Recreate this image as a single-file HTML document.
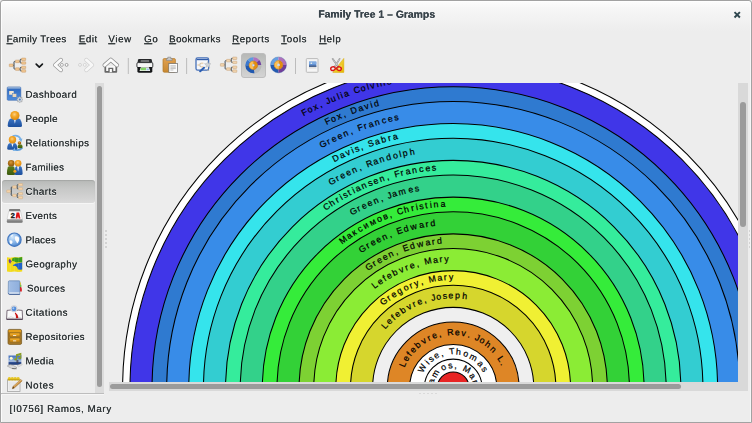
<!DOCTYPE html>
<html><head><meta charset="utf-8"><title>Family Tree 1 - Gramps</title>
<style>
html,body{margin:0;padding:0;}
body{width:752px;height:423px;overflow:hidden;position:relative;background:#ededed;font-family:"Liberation Sans",sans-serif;font-size:10.5px;color:#2e3436;}
.win{position:absolute;left:0;top:0;width:750px;height:421px;border:1px solid #a2a2a2;border-radius:3px 3px 0 0;box-shadow:inset 1px 1px 0 rgba(255,255,255,0.8), inset -1px 0 0 rgba(255,255,255,0.5);background:linear-gradient(#fdfdfd 0px,#f6f6f6 8px,#ededed 30px,#ededed 100%);}
.t{transform-origin:0 0;filter:opacity(0.999);position:absolute;white-space:nowrap;line-height:12px;height:12px;text-shadow:0.2px 0 0 currentColor, 0 1px 0 rgba(255,255,255,.6);}
.u{text-decoration:underline;text-underline-offset:1px;text-decoration-thickness:0.8px;}
.title{font-weight:bold;color:#39444b;}
.sep{position:absolute;width:1px;background:#c9c9c9;top:58px;height:16px;}
.ico{position:absolute;}
.sel{position:absolute;left:1.5px;top:180px;width:93px;height:23px;border-radius:3px;box-shadow:inset 0 1px 1px rgba(0,0,0,0.10), 0 1px 0 rgba(255,255,255,0.5);background:linear-gradient(#b7b9b7,#c6c7c6 35%,#d2d2d2 75%,#dadada);}
.trough{position:absolute;background:#d9d9d9;}
.thumb{position:absolute;background:#9b9b9b;border-radius:3px;}
.dot{position:absolute;width:1.5px;height:1.5px;background:#d3d3d3;}
.chart{position:absolute;left:109px;top:83px;}
</style></head><body>
<div class="win"></div>
<!-- title -->
<span class="t title" style="left:318px;top:8px;transform:matrix(1,0.0005,0,1,0.20,0.60);font-size:10.4px;letter-spacing:0.006px">Family Tree 1 – Gramps</span>
<svg class="ico" style="left:732px;top:10px" width="10" height="10" viewBox="0 0 10 10"><path d="M2.5 2.1 L7.9 7.5 M7.9 2.1 L2.5 7.5" stroke="#2e464e" stroke-width="1.9" fill="none"/></svg>
<!-- menu -->
<span class="t " style="left:6px;top:33px;transform:matrix(1,0.0005,0,1,0.50,0.24);font-size:9.7px;letter-spacing:0.374px"><span class="u">F</span>amily Trees</span>
<span class="t " style="left:78px;top:33px;transform:matrix(1,0.0005,0,1,0.80,0.24);font-size:9.7px;letter-spacing:0.538px"><span class="u">E</span>dit</span>
<span class="t " style="left:108px;top:33px;transform:matrix(1,0.0005,0,1,0.20,0.24);font-size:9.7px;letter-spacing:0.683px"><span class="u">V</span>iew</span>
<span class="t " style="left:144px;top:33px;transform:matrix(1,0.0005,0,1,0.10,0.24);font-size:9.7px;letter-spacing:0.542px"><span class="u">G</span>o</span>
<span class="t " style="left:169px;top:33px;transform:matrix(1,0.0005,0,1,0.10,0.24);font-size:9.7px;letter-spacing:0.355px"><span class="u">B</span>ookmarks</span>
<span class="t " style="left:232px;top:33px;transform:matrix(1,0.0005,0,1,0.10,0.24);font-size:9.7px;letter-spacing:0.525px"><span class="u">R</span>eports</span>
<span class="t " style="left:281px;top:33px;transform:matrix(1,0.0005,0,1,0.10,0.24);font-size:9.7px;letter-spacing:0.688px"><span class="u">T</span>ools</span>
<span class="t " style="left:319px;top:33px;transform:matrix(1,0.0005,0,1,0.00,0.24);font-size:9.7px;letter-spacing:0.572px"><span class="u">H</span>elp</span>
<!-- toolbar -->
<svg class="ico" style="left:0;top:50px" width="360" height="30" viewBox="0 50 360 30">
<defs><linearGradient id="pb" x1="0" y1="0" x2="0" y2="1"><stop offset="0" stop-color="#b6b8b6"/><stop offset="0.5" stop-color="#c6c7c6"/><stop offset="1" stop-color="#d4d4d4"/></linearGradient><linearGradient id="clipg" x1="0" y1="0" x2="0" y2="1"><stop offset="0" stop-color="#e0a050"/><stop offset="1" stop-color="#c88830"/></linearGradient><linearGradient id="yel" x1="0" y1="0" x2="1" y2="1"><stop offset="0" stop-color="#f8e060"/><stop offset="1" stop-color="#e8b800"/></linearGradient></defs>
<rect x="241.5" y="53.5" width="24" height="24" rx="2.5" fill="url(#pb)" stroke="#bababa" stroke-width="0.9"/>
<rect x="127.80000000000001" y="58" width="1" height="16" fill="#bcbcbc"/>
<rect x="186.1" y="58" width="1" height="16" fill="#bcbcbc"/>
<rect x="295.0" y="58" width="1" height="16" fill="#bcbcbc"/>
<path d="M13.10 65.30 H14.00 M15.40 61.40 H14.70 Q14.00 61.40 14.00 62.10 V68.40 Q14.00 69.10 14.70 69.10 H15.40 M19.20 61.40 H20.10 M21.60 59.30 H20.80 Q20.10 59.30 20.10 60.00 V62.30 Q20.10 63.00 20.80 63.00 H21.60 M19.20 69.10 H20.10 M21.60 67.40 H20.80 Q20.10 67.40 20.10 68.10 V70.20 Q20.10 70.90 20.80 70.90 H21.60" stroke="#333c44" stroke-width="0.95" fill="none"/>
<rect x="9.30" y="64.00" width="3.8" height="2.6" rx="0.35" fill="#f2c792" stroke="#c39560" stroke-width="0.5"/>
<rect x="15.40" y="60.15" width="3.9" height="2.5" rx="0.35" fill="#f2c792" stroke="#c39560" stroke-width="0.5"/>
<rect x="15.40" y="67.85" width="3.9" height="2.5" rx="0.35" fill="#f2c792" stroke="#c39560" stroke-width="0.5"/>
<rect x="21.60" y="58.10" width="4.1" height="2.4" rx="0.35" fill="#f2c792" stroke="#c39560" stroke-width="0.5"/>
<rect x="21.60" y="61.80" width="4.1" height="2.4" rx="0.35" fill="#f2c792" stroke="#c39560" stroke-width="0.5"/>
<rect x="21.60" y="66.20" width="4.1" height="2.4" rx="0.35" fill="#f2c792" stroke="#c39560" stroke-width="0.5"/>
<rect x="21.60" y="69.70" width="4.1" height="2.5" rx="0.35" fill="#f2c792" stroke="#c39560" stroke-width="0.5"/>
<path d="M36.2 64.2 L39.3 67.2 L42.4 64.2" stroke="#15181a" stroke-width="1.7" fill="none" stroke-linecap="round" stroke-linejoin="round"/>
<path d="M60.8 60 L55.2 65 L60.8 70" stroke="#979797" stroke-width="4.3" fill="none" stroke-linecap="round" stroke-linejoin="round"/>
<path d="M60.8 60 L55.2 65 L60.8 70" stroke="#fbfbfb" stroke-width="2.9" fill="none" stroke-linecap="round" stroke-linejoin="round"/>
<circle cx="61.9" cy="64.9" r="1.45" fill="#fdfdfd" stroke="#9a9a9a" stroke-width="0.8"/><circle cx="66.6" cy="64.9" r="1.45" fill="#fdfdfd" stroke="#8a8a8a" stroke-width="0.8"/>
<path d="M86.4 60 L92 65 L86.4 70" stroke="#d0d0d0" stroke-width="4.3" fill="none" stroke-linecap="round" stroke-linejoin="round"/>
<path d="M86.4 60 L92 65 L86.4 70" stroke="#f7f7f7" stroke-width="2.9" fill="none" stroke-linecap="round" stroke-linejoin="round"/>
<circle cx="80" cy="64.9" r="1.45" fill="#f6f6f6" stroke="#cccccc" stroke-width="0.8"/><circle cx="84.8" cy="64.9" r="1.45" fill="#f6f6f6" stroke="#cfcfcf" stroke-width="0.8"/>
<path d="M105.3 66.2 V71.8 H116.3 V66.2" stroke="#686868" stroke-width="1.7" fill="#fafafa" stroke-linejoin="round"/>
<path d="M109 72.2 V68.4 H112.6 V72.2" stroke="#686868" stroke-width="1.4" fill="#fdfdfd"/>
<path d="M104.6 65.2 L110.8 59.8 L117 65.2" stroke="#8e8e8e" stroke-width="4.2" fill="none" stroke-linecap="round" stroke-linejoin="round"/>
<path d="M104.6 65.2 L110.8 59.8 L117 65.2" stroke="#fbfbfb" stroke-width="2.8" fill="none" stroke-linecap="round" stroke-linejoin="round"/>
<path d="M139 59 H150.8 Q151.6 59 151.8 59.8 L152.4 63.2 H137.4 L138 59.8 Q138.2 59 139 59 Z" fill="#26282a"/>
<rect x="140.6" y="60.3" width="8.6" height="1.5" rx="0.4" fill="#8a8c8e"/>
<rect x="136.9" y="62.6" width="15.9" height="4.9" rx="1.2" fill="#f6f6f6" stroke="#26282a" stroke-width="0.9"/>
<path d="M137.4 66.9 H152.3 V71.3 Q152.3 72.7 150.9 72.7 H138.8 Q137.4 72.7 137.4 71.3 Z" fill="#141618"/>
<path d="M140.8 67.3 H148.9 L150.2 70.9 H139.5 Z" fill="#f4f6f2"/>
<path d="M141.2 67.7 H146.2 L146.0 70.3 H140.3 Z" fill="#84d468"/>
<path d="M146.6 68.6 H148.6 L149.2 70.3 H146.4 Z" fill="#9cc0ea"/>
<rect x="163" y="58.6" width="12.4" height="13.6" rx="1.2" fill="url(#clipg)" stroke="#b07828" stroke-width="0.7"/>
<path d="M166.4 60.4 V58.6 H167.8 V57.2 H170.8 V58.6 H172.2 V60.4 Z" fill="#c9c9c9" stroke="#7e7e7e" stroke-width="0.6"/>
<rect x="168.8" y="63.6" width="8.6" height="8.8" fill="#fcfcfc" stroke="#6c6c6c" stroke-width="0.7"/>
<path d="M170.4 65.8 H175.8 M170.4 67.2 H175.8 M170.4 68.6 H175.8 M170.4 70 H173.4" stroke="#a8a8a8" stroke-width="0.7"/>
<rect x="196" y="57.9" width="12.6" height="12.2" rx="1.6" fill="#f6f7f9" stroke="#4670b8" stroke-width="1.3"/>
<rect x="196.6" y="58.9" width="11.4" height="1.3" fill="#2f5cab"/>
<path d="M198.6 65 H200 M200 63.4 V66.6 M200 63.4 H201 M200 66.6 H201" stroke="#b9ad9c" stroke-width="0.7" fill="none"/>
<rect x="197.4" y="64.2" width="2" height="1.6" fill="#ecd6b8"/><rect x="201" y="62.5" width="2.4" height="1.6" fill="#ecd6b8"/><rect x="201" y="66" width="2.4" height="1.6" fill="#ecd6b8"/>
<path d="M207.7 61.4 L208.6 63.5 L210.9 63.7 L209.2 65.2 L209.7 67.5 L207.7 66.3 L205.7 67.5 L206.2 65.2 L204.5 63.7 L206.8 63.5 Z" fill="#cfd3d7" stroke="#a8acb0" stroke-width="0.4"/>
<path d="M200.2 71.2 L204 67.8" stroke="#2c5eb2" stroke-width="2.1" fill="none" stroke-linecap="round"/>
<path d="M207.4 68.8 L209.4 71 H207.4 Z" fill="#a4a8ac"/>
<path d="M224.20 64.90 H225.10 M226.50 60.61 H225.80 Q225.10 60.61 225.10 61.31 V68.38 Q225.10 69.08 225.80 69.08 H226.50 M230.30 60.61 H231.20 M232.70 58.30 H231.90 Q231.20 58.30 231.20 59.00 V61.67 Q231.20 62.37 231.90 62.37 H232.70 M230.30 69.08 H231.20 M232.70 67.21 H231.90 Q231.20 67.21 231.20 67.91 V70.36 Q231.20 71.06 231.90 71.06 H232.70" stroke="#3a4249" stroke-width="0.95" fill="none"/>
<rect x="220.40" y="63.60" width="3.8" height="2.6" rx="0.35" fill="#f2d4ae" stroke="#c4a076" stroke-width="0.5"/>
<rect x="226.50" y="59.36" width="3.9" height="2.5" rx="0.35" fill="#f2d4ae" stroke="#c4a076" stroke-width="0.5"/>
<rect x="226.50" y="67.83" width="3.9" height="2.5" rx="0.35" fill="#f2d4ae" stroke="#c4a076" stroke-width="0.5"/>
<rect x="232.70" y="57.10" width="4.1" height="2.4" rx="0.35" fill="#f2d4ae" stroke="#c4a076" stroke-width="0.5"/>
<rect x="232.70" y="61.17" width="4.1" height="2.4" rx="0.35" fill="#f2d4ae" stroke="#c4a076" stroke-width="0.5"/>
<rect x="232.70" y="66.01" width="4.1" height="2.4" rx="0.35" fill="#f2d4ae" stroke="#c4a076" stroke-width="0.5"/>
<rect x="232.70" y="69.87" width="4.1" height="2.5" rx="0.35" fill="#f2d4ae" stroke="#c4a076" stroke-width="0.5"/>
<path d="M253.3 65.3 L261.6 65.8 A8.3 8.3 0 0 1 253.8 73.6 Z" fill="#9a9a9a" opacity="0.32"/>
<path d="M254.41 73.22 A8.0 8.0 0 0 1 245.30 65.30 L249.00 65.30 A4.3 4.3 0 0 0 253.90 69.56 Z" fill="#2159b0"/>
<path d="M245.30 65.30 A8.0 8.0 0 0 1 247.64 59.64 L250.26 62.26 A4.3 4.3 0 0 0 249.00 65.30 Z" fill="#3a78d0"/>
<path d="M247.64 59.64 A8.0 8.0 0 0 1 253.58 57.30 L253.45 61.00 A4.3 4.3 0 0 0 250.26 62.26 Z" fill="#5e9ae0"/>
<path d="M253.58 57.30 A8.0 8.0 0 0 1 259.25 59.95 L256.50 62.42 A4.3 4.3 0 0 0 253.45 61.00 Z" fill="#b072c0"/>
<path d="M259.25 59.95 A8.0 8.0 0 0 1 261.30 65.02 L257.60 65.15 A4.3 4.3 0 0 0 256.50 62.42 Z" fill="#7242a0"/>
<path d="M253.30 69.60 A4.3 4.3 0 0 1 253.30 61.00 L253.30 64.00 A1.3 1.3 0 0 0 253.30 66.60 Z" fill="#fcc052"/>
<path d="M253.30 61.00 A4.3 4.3 0 0 1 253.30 69.60 L253.30 66.60 A1.3 1.3 0 0 0 253.30 64.00 Z" fill="#e48e10"/>
<circle cx="253.3" cy="65.3" r="4.3" fill="none" stroke="#b86a08" stroke-width="0.5"/>
<circle cx="253.3" cy="65.3" r="0.9500000000000001" fill="#eef2fa" stroke="#8aa0c8" stroke-width="0.4"/>
<path d="M270.50 64.90 A8.0 8.0 0 0 1 278.50 56.90 L278.50 60.60 A4.3 4.3 0 0 0 274.20 64.90 Z" fill="#66a0e2"/>
<path d="M278.50 72.90 A8.0 8.0 0 0 1 270.50 64.90 L274.20 64.90 A4.3 4.3 0 0 0 278.50 69.20 Z" fill="#235ab0"/>
<path d="M278.50 56.90 A8.0 8.0 0 0 1 286.50 64.90 L282.80 64.90 A4.3 4.3 0 0 0 278.50 60.60 Z" fill="#b070ba"/>
<path d="M286.50 64.90 A8.0 8.0 0 0 1 278.50 72.90 L278.50 69.20 A4.3 4.3 0 0 0 282.80 64.90 Z" fill="#713e99"/>
<circle cx="278.5" cy="64.9" r="8.0" fill="none" stroke="#2c5aa0" stroke-width="0.5" opacity="0.6"/>
<path d="M278.50 69.20 A4.3 4.3 0 0 1 278.50 60.60 L278.50 63.60 A1.3 1.3 0 0 0 278.50 66.20 Z" fill="#fcc052"/>
<path d="M278.50 60.60 A4.3 4.3 0 0 1 278.50 69.20 L278.50 66.20 A1.3 1.3 0 0 0 278.50 63.60 Z" fill="#e48e10"/>
<circle cx="278.5" cy="64.9" r="4.3" fill="none" stroke="#b86a08" stroke-width="0.5"/>
<circle cx="278.5" cy="64.9" r="0.9500000000000001" fill="#eef2fa" stroke="#8aa0c8" stroke-width="0.4"/>
<rect x="306.3" y="58.6" width="11.7" height="13.7" rx="0.8" fill="#f5f5f5" stroke="#b4b4b4" stroke-width="0.9"/>
<rect x="309" y="61.6" width="7.3" height="5.4" fill="#5c8cd0"/>
<rect x="309" y="61.6" width="7.3" height="2.6" fill="#7eaae2"/>
<rect x="309" y="65.4" width="7.3" height="1.6" fill="#4c6690"/>
<circle cx="311.3" cy="63.2" r="0.8" fill="#f4f6e8"/>
<rect x="309" y="67" width="7.3" height="1.6" fill="#dedede"/>
<path d="M343.8 58.4 V72.4 H332.8 Z" fill="url(#yel)" stroke="#d8a800" stroke-width="0.5"/>
<path d="M341.4 64.8 V70 H337.2 Z" fill="#f6e68a"/>
<path d="M332.6 58.8 L338.2 66.8 M339.6 58.8 L334.6 66.8" stroke="#8c8c8c" stroke-width="1.6" stroke-linecap="round"/>
<path d="M332.6 58.8 L338.2 66.8 M339.6 58.8 L334.6 66.8" stroke="#dedede" stroke-width="0.7" stroke-linecap="round"/>
<ellipse cx="333" cy="68.6" rx="2.3" ry="1.8" fill="none" stroke="#d81818" stroke-width="1.4" transform="rotate(-20 333 68.6)"/>
<ellipse cx="339" cy="68.6" rx="2.3" ry="1.8" fill="none" stroke="#d81818" stroke-width="1.4" transform="rotate(20 339 68.6)"/>
</svg>
<!-- sidebar -->
<div class="sel"></div>
<span class="t " style="left:25px;top:88px;transform:matrix(1,0.0005,0,1,0.40,0.69);font-size:9.7px;letter-spacing:0.474px">Dashboard</span>
<span class="t " style="left:25px;top:112px;transform:matrix(1,0.0005,0,1,0.40,0.93);font-size:9.7px;letter-spacing:0.384px">People</span>
<span class="t " style="left:25px;top:137px;transform:matrix(1,0.0005,0,1,0.40,0.17);font-size:9.7px;letter-spacing:0.442px">Relationships</span>
<span class="t " style="left:25px;top:161px;transform:matrix(1,0.0005,0,1,0.40,0.41);font-size:9.7px;letter-spacing:0.354px">Families</span>
<span class="t " style="left:25px;top:185px;transform:matrix(1,0.0005,0,1,0.40,0.65);font-size:9.7px;letter-spacing:0.496px">Charts</span>
<span class="t " style="left:25px;top:209px;transform:matrix(1,0.0005,0,1,0.40,0.89);font-size:9.7px;letter-spacing:0.350px">Events</span>
<span class="t " style="left:25px;top:234px;transform:matrix(1,0.0005,0,1,0.40,0.13);font-size:9.7px;letter-spacing:0.228px">Places</span>
<span class="t " style="left:25px;top:258px;transform:matrix(1,0.0005,0,1,0.40,0.37);font-size:9.7px;letter-spacing:0.439px">Geography</span>
<span class="t " style="left:26px;top:282px;transform:matrix(1,0.0005,0,1,0.90,0.61);font-size:9.7px;letter-spacing:0.400px">Sources</span>
<span class="t " style="left:25px;top:306px;transform:matrix(1,0.0005,0,1,0.40,0.85);font-size:9.7px;letter-spacing:0.545px">Citations</span>
<span class="t " style="left:25px;top:331px;transform:matrix(1,0.0005,0,1,0.40,0.09);font-size:9.7px;letter-spacing:0.469px">Repositories</span>
<span class="t " style="left:25px;top:355px;transform:matrix(1,0.0005,0,1,0.40,0.33);font-size:9.7px;letter-spacing:0.489px">Media</span>
<span class="t " style="left:25px;top:379px;transform:matrix(1,0.0005,0,1,0.40,0.57);font-size:9.7px;letter-spacing:0.701px">Notes</span><svg class="ico" style="left:0;top:83px" width="26" height="312" viewBox="0 83 26 312">
<defs><radialGradient id="hdo" cx="0.45" cy="0.38" r="0.6"><stop offset="0" stop-color="#fbd088"/><stop offset="0.45" stop-color="#f5a828"/><stop offset="1" stop-color="#dc8a12"/></radialGradient><radialGradient id="hdb" cx="0.45" cy="0.38" r="0.6"><stop offset="0" stop-color="#d69a40"/><stop offset="0.5" stop-color="#b07218"/><stop offset="1" stop-color="#8a5610"/></radialGradient><linearGradient id="bdb" x1="0" y1="0" x2="0" y2="1"><stop offset="0" stop-color="#3a74c4"/><stop offset="1" stop-color="#1d4f9c"/></linearGradient><linearGradient id="bdg" x1="0" y1="0" x2="0" y2="1"><stop offset="0" stop-color="#5a7e1c"/><stop offset="1" stop-color="#3c5a0e"/></linearGradient><linearGradient id="dash" x1="0" y1="0" x2="0" y2="1"><stop offset="0" stop-color="#2b66bc"/><stop offset="1" stop-color="#4f8cdc"/></linearGradient><radialGradient id="glb" cx="0.35" cy="0.3" r="0.8"><stop offset="0" stop-color="#d4e8fa"/><stop offset="0.5" stop-color="#8cb8ea"/><stop offset="1" stop-color="#3f7cc8"/></radialGradient><linearGradient id="cal" x1="0" y1="0" x2="0" y2="1"><stop offset="0" stop-color="#a2a2a2"/><stop offset="1" stop-color="#6c6c6c"/></linearGradient><linearGradient id="sky" x1="0" y1="0" x2="0" y2="1"><stop offset="0" stop-color="#3d6ab8"/><stop offset="0.5" stop-color="#7fa4da"/><stop offset="0.62" stop-color="#c4d4ea"/><stop offset="0.7" stop-color="#35589c"/><stop offset="1" stop-color="#142e68"/></linearGradient><linearGradient id="bk" x1="0" y1="0" x2="1" y2="0"><stop offset="0" stop-color="#b8d0ee"/><stop offset="0.15" stop-color="#9fbce4"/><stop offset="1" stop-color="#8eaedc"/></linearGradient></defs>
<rect x="7.2" y="86.9" width="13.6" height="13.4" rx="1" fill="url(#dash)" stroke="#2a5aa4" stroke-width="0.5"/>
<rect x="7.4" y="87" width="13.2" height="1.7" fill="#8cacd6"/>
<rect x="9.2" y="91" width="4.5" height="3.7" fill="#f2e6d2"/>
<rect x="12.2" y="93.6" width="4.5" height="3.6" fill="#e9d6ba" stroke="#2f6cc0" stroke-width="0.4"/>
<polygon points="23.00,99.60 21.83,100.44 22.06,101.86 20.64,101.63 19.80,102.80 18.96,101.63 17.54,101.86 17.77,100.44 16.60,99.60 17.77,98.76 17.54,97.34 18.96,97.57 19.80,96.40 20.64,97.57 22.06,97.34 21.83,98.76" fill="#d2d6da" stroke="#8e9296" stroke-width="0.45"/>
<circle cx="19.8" cy="99.6" r="1.0" fill="#4a7cc4"/>
<path d="M7.70 125.80 Q7.70 120.28 10.85 118.60 L18.85 118.60 Q22.00 120.28 22.00 125.80 Q22.00 127.00 20.40 127.00 H9.30 Q7.70 127.00 7.70 125.80 Z" fill="url(#bdb)"/>
<path d="M13.80 118.60 L14.90 123.81 L16.00 118.60 Z" fill="#f4f6fa"/>
<circle cx="14.90" cy="115.50" r="4.6" fill="url(#hdo)"/>
<path d="M12.6 136 Q18.6 134.6 20.6 139.2" stroke="#76b0e6" stroke-width="1.7" fill="none"/>
<path d="M18.6 139.2 L22.4 138.4 L21.4 142 Z" fill="#76b0e6"/>
<path d="M13.4 149.2 Q18.6 151.6 22.4 147.8" stroke="#5c9cdc" stroke-width="1.7" fill="none"/>
<path d="M7.20 148.60 Q7.20 144.52 9.44 143.20 L15.16 143.20 Q17.40 144.52 17.40 148.60 Q17.40 149.80 15.80 149.80 H8.80 Q7.20 149.80 7.20 148.60 Z" fill="url(#bdb)"/>
<path d="M11.35 143.20 L12.45 147.29 L13.55 143.20 Z" fill="#f4f6fa"/>
<circle cx="12.45" cy="139.80" r="3.7" fill="url(#hdo)"/>
<path d="M17.60 147.00 Q17.60 145.24 18.70 144.50 L21.50 144.50 Q22.60 145.24 22.60 147.00 Q22.60 148.20 21.00 148.20 H19.20 Q17.60 148.20 17.60 147.00 Z" fill="url(#bdg)"/>
<circle cx="19.50" cy="142.90" r="1.75" fill="url(#hdb)"/>
<path d="M12.6 151 L14.6 147.6 L15.6 150.8 Z" fill="#7ab4e8"/>
<path d="M6.90 173.70 Q6.90 167.94 8.73 166.20 L13.37 166.20 Q15.20 167.94 15.20 173.70 Q15.20 174.90 13.60 174.90 H8.50 Q6.90 174.90 6.90 173.70 Z" fill="url(#bdg)"/>
<circle cx="11.20" cy="163.20" r="3.3" fill="url(#hdb)"/>
<path d="M14.50 173.70 Q14.50 167.94 16.28 166.20 L20.82 166.20 Q22.60 167.94 22.60 173.70 Q22.60 174.90 21.00 174.90 H16.10 Q14.50 174.90 14.50 173.70 Z" fill="url(#bdb)"/>
<path d="M17.00 166.20 L18.10 171.59 L19.20 166.20 Z" fill="#f4f6fa"/>
<circle cx="18.10" cy="163.20" r="3.3" fill="url(#hdo)"/>
<circle cx="14.9" cy="171.2" r="1.5" fill="#f0a020"/>
<path d="M10.34 191.30 H11.24 M12.55 187.01 H11.94 Q11.24 187.01 11.24 187.71 V194.78 Q11.24 195.48 11.94 195.48 H12.55 M16.20 187.01 H17.10 M18.50 184.70 H17.80 Q17.10 184.70 17.10 185.40 V188.07 Q17.10 188.77 17.80 188.77 H18.50 M16.20 195.48 H17.10 M18.50 193.61 H17.80 Q17.10 193.61 17.10 194.31 V196.76 Q17.10 197.46 17.80 197.46 H18.50" stroke="#3a4248" stroke-width="0.95" fill="none"/>
<rect x="6.70" y="190.00" width="3.8" height="2.6" rx="0.35" fill="#f4d2a8" stroke="#cfae86" stroke-width="0.5"/>
<rect x="12.55" y="185.76" width="3.9" height="2.5" rx="0.35" fill="#f4d2a8" stroke="#cfae86" stroke-width="0.5"/>
<rect x="12.55" y="194.23" width="3.9" height="2.5" rx="0.35" fill="#f4d2a8" stroke="#cfae86" stroke-width="0.5"/>
<rect x="18.50" y="183.50" width="4.1" height="2.4" rx="0.35" fill="#f4d2a8" stroke="#cfae86" stroke-width="0.5"/>
<rect x="18.50" y="187.57" width="4.1" height="2.4" rx="0.35" fill="#f4d2a8" stroke="#cfae86" stroke-width="0.5"/>
<rect x="18.50" y="192.41" width="4.1" height="2.4" rx="0.35" fill="#f4d2a8" stroke="#cfae86" stroke-width="0.5"/>
<rect x="18.50" y="196.27" width="4.1" height="2.5" rx="0.35" fill="#f4d2a8" stroke="#cfae86" stroke-width="0.5"/>
<path d="M9.4 209 H19.9 L20.5 211.4 H8.8 Z" fill="#7c7c7c"/>
<path d="M8.8 211.3 H20.5 L22.4 219.4 H7 Z" fill="#fbfbfb" stroke="#b4b4b4" stroke-width="0.4"/>
<path d="M7 219.3 H22.4 L22.7 221.4 Q22.7 222.7 21.4 222.7 H8 Q6.7 222.7 6.8 221.4 Z" fill="url(#cal)"/>
<text x="10.8" y="218.3" font-family="Liberation Sans, sans-serif" font-weight="bold" font-size="7.4" fill="#111" stroke="#111" stroke-width="0.35">2</text>
<path d="M15.6 218.4 L16.5 212.6 H19.2 L20.4 218.4 H18.7 L18 216.2 L17.3 218.4 Z" fill="#e01414"/>
<circle cx="14.4" cy="239.7" r="6.7" fill="url(#glb)" stroke="#4478c0" stroke-width="1.2"/>
<path d="M9.6 240.6 Q11.2 239.8 12.2 241 Q13 242.4 12 243.6 Q11 244.6 10.2 243.4 Q9.4 242 9.6 240.6 Z" fill="#fcfcfc"/>
<path d="M15 236.6 Q17 235.8 18.6 237 Q19.6 238.6 19 240.8 Q18.2 243 17 243.4 Q16.6 241.4 15.4 240.4 Q14.4 238.6 15 236.6 Z" fill="#fcfcfc"/>
<path d="M10.4 236.2 Q11.6 234.6 13.4 234.4 Q12.6 236 11.4 236.8 Z" fill="#fcfcfc" opacity="0.9"/>
<path d="M7 257.2 L10.4 257.8 L14.4 257 L18.6 257.6 L22.2 256.8 V271.4 L18.6 272 L14.4 271.4 L10.4 272 L7 271.4 Z" fill="#f2da1a"/>
<path d="M12.2 258.6 L14.4 257.6 L18.6 257.8 L22.2 256.9 V262 L16.4 262.6 L13.8 261.2 L12 260.8 Z" fill="#3a9c1c"/>
<path d="M12.8 265.2 Q15 263.4 18 263.2 L22.2 262.2 V269.6 L20.4 269.8 L18 269.4 Q17.4 266.6 15.6 266 Q13.8 266.4 12.8 265.2 Z" fill="#2062c8"/>
<path d="M9 259.4 Q10.4 258.6 10.8 260 L11.8 261.6 Q10.8 262.2 10.6 263.4 Q9.2 263.6 9 262 Q8.2 260.8 9 259.4 Z" fill="#6a3a90"/>
<path d="M10.4 257.8 V272 M14.4 257 V271.4 M18.6 257.6 V272" stroke="#ffffff" stroke-width="0.3" opacity="0.35"/>
<rect x="19.4" y="282.4" width="1.6" height="2.6" fill="#ecd032"/>
<rect x="19.6" y="284.8" width="1.8" height="2.4" fill="#7ac83a"/>
<path d="M19.6 287 H21.2 Q22.2 289 21.8 291.4 H19.6 Z" fill="#e01818"/>
<path d="M8.4 281.8 Q8.4 280.8 9.4 280.8 H19.2 Q19.8 280.8 19.8 281.4 V294.2 H9.6 Q8.2 294.2 8.2 292.8 Z" fill="url(#bk)" stroke="#5478a8" stroke-width="0.6"/>
<path d="M9.4 292.4 H19.4 V293.6 H9.4 Q8.8 293 9.4 292.4 Z" fill="#fafafa"/>
<path d="M8.4 293.4 Q8.6 294.5 9.8 294.5 H19.8" stroke="#3c5c94" stroke-width="0.8" fill="none"/>
<path d="M7 310.4 Q10.6 309.4 14.4 311 Q18.4 309.4 22.2 310.4 L22.6 319 H6.6 Z" fill="#fbfbfb" stroke="#5c4c5c" stroke-width="0.8"/>
<path d="M7.6 318 Q11 315.4 14.4 318.2 Q18 316 21.8 318" fill="none" stroke="#d0d0d0" stroke-width="0.8"/>
<path d="M6.5 319.4 H22.7" stroke="#4c3c50" stroke-width="1"/>
<path d="M15.4 312.4 Q17.8 314 18.4 318 L16.2 318.2 Q16.2 315 14.8 313.2 Z" fill="#c81212"/>
<circle cx="14" cy="308.8" r="2.9" fill="#4f8cdc" stroke="#cfd1d8" stroke-width="1.1"/>
<circle cx="13.4" cy="308.2" r="1" fill="#a8c8f0"/>
<rect x="8" y="329.4" width="13.6" height="15" rx="1.4" fill="#a87a2a" stroke="#76581c" stroke-width="0.7"/>
<rect x="8.6" y="330" width="12.4" height="2.2" rx="0.6" fill="#e49e1a"/>
<rect x="9.6" y="332.8" width="10.4" height="3.9" rx="0.5" fill="#d48e18" stroke="#80601a" stroke-width="0.45"/>
<rect x="9.6" y="338" width="10.4" height="4" rx="0.5" fill="#d48e18" stroke="#80601a" stroke-width="0.45"/>
<rect x="10.2" y="333.4" width="9.2" height="1.5" fill="#eaa828"/><rect x="10.2" y="338.6" width="9.2" height="1.5" fill="#eaa828"/>
<rect x="13" y="335" width="3.2" height="0.9" fill="#f6efe0"/><rect x="13" y="340.4" width="3.2" height="0.9" fill="#f6efe0"/>
<rect x="8.2" y="355.2" width="13.4" height="9.8" fill="url(#sky)" stroke="#dfe3ea" stroke-width="0.5"/>
<circle cx="11.2" cy="358.2" r="1.5" fill="#fbf8d0"/>
<path d="M7.2 366 Q10 363.6 13 365.4 L17 367.6 Q15 369.6 12 368.6 Z" fill="#d9d9d9" stroke="#8e8e8e" stroke-width="0.5"/>
<path d="M12 368.4 L16.6 368.8" stroke="#555" stroke-width="0.7"/>
<path d="M17 365.6 L21.8 363.6 L22.2 364.8 L18.6 366.8 Z" fill="#e6e6e6" stroke="#a8a8a8" stroke-width="0.4"/>
<path d="M16.6 359.2 V354.6 L20.8 353.4 V358" stroke="#8a9c24" stroke-width="1.1" fill="none"/>
<path d="M16.6 354.8 L20.8 353.6 V355 L16.6 356.2 Z" fill="#8a9c24"/>
<ellipse cx="15.6" cy="359.4" rx="1.5" ry="1.1" fill="#8a9c24"/><ellipse cx="19.8" cy="358.2" rx="1.5" ry="1.1" fill="#8a9c24"/>
<rect x="16.4" y="360" width="2" height="3" fill="#3c3c48" opacity="0.75"/>
<rect x="7.4" y="379.8" width="12.6" height="11.8" fill="#f4f4f4" stroke="#a4a4a4" stroke-width="0.8"/>
<rect x="8.6" y="381.4" width="10.2" height="9" fill="#e9e9e9"/>
<ellipse cx="9.40" cy="378.7" rx="1.7" ry="1.7" fill="#e6c626"/>
<ellipse cx="12.30" cy="378.7" rx="1.7" ry="1.7" fill="#e6c626"/>
<ellipse cx="15.20" cy="378.7" rx="1.7" ry="1.7" fill="#e6c626"/>
<ellipse cx="18.10" cy="378.7" rx="1.7" ry="1.7" fill="#e6c626"/>
<rect x="7.8" y="379.2" width="11.8" height="1.1" fill="#c6a212"/>
<path d="M12.4 388.7 L13 386.4 L20.8 379.4 L22.2 380.9 L14.4 387.9 Z" fill="#cc9444" stroke="#8a5e1e" stroke-width="0.4"/>
<path d="M12.4 388.7 L13 386.4 L14.4 387.9 Z" fill="#5a3a14"/>
<path d="M14 386.3 L21.4 379.7" stroke="#ecc486" stroke-width="0.6"/>
</svg>
<div class="trough" style="left:95.3px;top:83px;width:8.5px;height:310.3px;background:#dcdcdc"></div>
<div class="thumb" style="left:97px;top:85.5px;width:4.8px;height:301.5px"></div>
<div style="position:absolute;left:1px;top:393.3px;width:103px;height:1px;background:#bdbdbd"></div>
<div style="position:absolute;left:1px;top:394.3px;width:103px;height:1px;background:#f6f6f6"></div>
<!-- chart -->
<svg class="chart" width="629" height="299" viewBox="109 83 629 299">
<circle cx="453.2" cy="388.0" r="330.6" fill="#fff" stroke="#000" stroke-width="1.05"/>
<circle cx="453.2" cy="388.0" r="323.25" fill="#4036e8" stroke="#000" stroke-width="1.05"/>
<circle cx="453.2" cy="388.0" r="301.17" fill="#2f7ad0" stroke="#000" stroke-width="1.05"/>
<circle cx="453.2" cy="388.0" r="286.49" fill="#388ce8" stroke="#000" stroke-width="1.05"/>
<circle cx="453.2" cy="388.0" r="264.41" fill="#35e4ec" stroke="#000" stroke-width="1.05"/>
<circle cx="453.2" cy="388.0" r="249.73" fill="#33cdd1" stroke="#000" stroke-width="1.05"/>
<circle cx="453.2" cy="388.0" r="227.65" fill="#35ec9c" stroke="#000" stroke-width="1.05"/>
<circle cx="453.2" cy="388.0" r="212.97" fill="#33d18a" stroke="#000" stroke-width="1.05"/>
<circle cx="453.2" cy="388.0" r="190.89" fill="#35ec3a" stroke="#000" stroke-width="1.05"/>
<circle cx="453.2" cy="388.0" r="176.21" fill="#33d137" stroke="#000" stroke-width="1.05"/>
<circle cx="453.2" cy="388.0" r="154.13" fill="#7dd133" stroke="#000" stroke-width="1.05"/>
<circle cx="453.2" cy="388.0" r="139.45" fill="#8bec35" stroke="#000" stroke-width="1.05"/>
<circle cx="453.2" cy="388.0" r="117.37" fill="#f0f033" stroke="#000" stroke-width="1.05"/>
<circle cx="453.2" cy="388.0" r="102.69" fill="#d6d62d" stroke="#000" stroke-width="1.05"/>
<circle cx="453.2" cy="388.0" r="80.61" fill="#efefef" stroke="#000" stroke-width="1.05"/>
<circle cx="453.2" cy="388.0" r="65.93" fill="#de8626" stroke="#000" stroke-width="1.05"/>
<circle cx="453.2" cy="388.0" r="43.60" fill="#ffffff" stroke="#000" stroke-width="1.05"/>
<circle cx="453.2" cy="388.0" r="28.90" fill="#ffffff" stroke="#000" stroke-width="1.05"/>
<circle cx="453.2" cy="388.0" r="16.0" fill="#e82525" stroke="#000" stroke-width="1.05"/>
<g font-family="Liberation Sans, sans-serif" font-size="8.8" fill="#000" stroke="#000" stroke-width="0.22">
<text transform="translate(433.63 391.30) rotate(-99.57)">R</text>
<text transform="translate(433.71 384.23) rotate(-79.06)">a</text>
<text transform="translate(435.90 378.27) rotate(-60.66)">m</text>
<text transform="translate(442.78 371.11) rotate(-31.67)">o</text>
<text transform="translate(448.64 368.68) rotate(-13.27)">s</text>
<text transform="translate(454.24 368.18) rotate(3.00)">,</text>
<text transform="translate(462.23 370.32) rotate(27.07)">M</text>
<text transform="translate(468.80 375.73) rotate(51.83)">a</text>
<text transform="translate(471.88 381.28) rotate(70.22)">r</text>
<text transform="translate(472.95 386.05) rotate(84.38)">y</text>
<text transform="translate(422.97 373.22) rotate(-63.95)">W</text>
<text transform="translate(428.65 364.98) rotate(-46.84)">i</text>
<text transform="translate(431.13 362.60) rotate(-41.00)">s</text>
<text transform="translate(435.67 359.28) rotate(-31.40)">e</text>
<text transform="translate(441.39 356.49) rotate(-20.54)">,</text>
<text transform="translate(449.48 354.56) rotate(-6.35)">T</text>
<text transform="translate(455.84 354.45) rotate(4.50)">h</text>
<text transform="translate(462.82 355.75) rotate(16.61)">o</text>
<text transform="translate(468.72 358.14) rotate(27.46)">m</text>
<text transform="translate(476.81 364.02) rotate(44.56)">a</text>
<text transform="translate(480.90 368.90) rotate(55.41)">s</text>
<text transform="translate(404.50 367.70) rotate(-67.37)">L</text>
<text transform="translate(407.30 361.98) rotate(-60.45)">e</text>
<text transform="translate(410.77 356.64) rotate(-53.53)">f</text>
<text transform="translate(413.38 353.38) rotate(-49.00)">e</text>
<text transform="translate(417.84 348.84) rotate(-42.08)">b</text>
<text transform="translate(423.42 344.44) rotate(-34.36)">v</text>
<text transform="translate(428.88 341.17) rotate(-27.44)">r</text>
<text transform="translate(433.33 339.12) rotate(-22.12)">e</text>
<text transform="translate(439.37 337.08) rotate(-15.20)">,</text>
<text transform="translate(447.55 335.54) rotate(-6.15)">R</text>
<text transform="translate(454.65 335.25) rotate(1.57)">e</text>
<text transform="translate(460.99 335.81) rotate(8.49)">v</text>
<text transform="translate(467.22 337.13) rotate(15.41)">.</text>
<text transform="translate(474.23 339.61) rotate(23.49)">J</text>
<text transform="translate(478.78 341.85) rotate(28.99)">o</text>
<text transform="translate(484.15 345.27) rotate(35.91)">h</text>
<text transform="translate(489.61 349.81) rotate(43.63)">n</text>
<text transform="translate(496.88 358.40) rotate(55.88)">L</text>
<text transform="translate(500.13 363.88) rotate(62.80)">.</text>
<text transform="translate(385.19 329.59) rotate(-49.34)">L</text>
<text transform="translate(389.51 324.91) rotate(-45.27)">e</text>
<text transform="translate(394.15 320.54) rotate(-41.20)">f</text>
<text transform="translate(397.35 317.87) rotate(-38.53)">e</text>
<text transform="translate(402.48 314.08) rotate(-34.46)">b</text>
<text transform="translate(408.49 310.29) rotate(-29.92)">v</text>
<text transform="translate(414.12 307.32) rotate(-25.84)">r</text>
<text transform="translate(418.59 305.30) rotate(-22.71)">e</text>
<text transform="translate(424.55 303.05) rotate(-18.64)">,</text>
<text transform="translate(431.69 300.97) rotate(-13.88)">J</text>
<text transform="translate(436.64 299.89) rotate(-10.64)">o</text>
<text transform="translate(442.94 298.94) rotate(-6.57)">s</text>
<text transform="translate(448.56 298.47) rotate(-2.97)">e</text>
<text transform="translate(454.93 298.37) rotate(1.11)">p</text>
<text transform="translate(462.02 298.79) rotate(5.65)">h</text>
<text transform="translate(383.08 305.82) rotate(-40.47)">G</text>
<text transform="translate(389.22 300.95) rotate(-36.31)">r</text>
<text transform="translate(393.24 298.14) rotate(-33.71)">e</text>
<text transform="translate(398.64 294.76) rotate(-30.33)">g</text>
<text transform="translate(404.89 291.37) rotate(-26.56)">o</text>
<text transform="translate(410.67 288.69) rotate(-23.18)">r</text>
<text transform="translate(415.22 286.87) rotate(-20.58)">y</text>
<text transform="translate(421.25 284.80) rotate(-17.20)">,</text>
<text transform="translate(429.30 282.65) rotate(-12.78)">M</text>
<text transform="translate(437.73 281.08) rotate(-8.23)">a</text>
<text transform="translate(444.06 280.36) rotate(-4.85)">r</text>
<text transform="translate(448.96 280.05) rotate(-2.25)">y</text>
<text transform="translate(374.57 289.02) rotate(-38.46)">L</text>
<text transform="translate(379.66 285.18) rotate(-35.57)">e</text>
<text transform="translate(384.93 281.61) rotate(-32.69)">f</text>
<text transform="translate(388.48 279.42) rotate(-30.80)">e</text>
<text transform="translate(394.03 276.29) rotate(-27.91)">b</text>
<text transform="translate(400.40 273.14) rotate(-24.69)">v</text>
<text transform="translate(406.26 270.63) rotate(-21.80)">r</text>
<text transform="translate(410.85 268.90) rotate(-19.58)">e</text>
<text transform="translate(416.90 266.91) rotate(-16.69)">,</text>
<text transform="translate(424.96 264.78) rotate(-12.91)">M</text>
<text transform="translate(433.38 263.15) rotate(-9.02)">a</text>
<text transform="translate(439.70 262.31) rotate(-6.13)">r</text>
<text transform="translate(444.58 261.88) rotate(-3.91)">y</text>
<text transform="translate(368.01 270.92) rotate(-36.04)">G</text>
<text transform="translate(374.47 266.48) rotate(-32.94)">r</text>
<text transform="translate(378.63 263.89) rotate(-31.00)">e</text>
<text transform="translate(384.17 260.73) rotate(-28.48)">e</text>
<text transform="translate(389.83 257.81) rotate(-25.95)">n</text>
<text transform="translate(396.30 254.86) rotate(-23.14)">,</text>
<text transform="translate(404.06 251.81) rotate(-19.84)">E</text>
<text transform="translate(410.80 249.56) rotate(-17.03)">d</text>
<text transform="translate(417.64 247.64) rotate(-14.22)">w</text>
<text transform="translate(426.01 245.79) rotate(-10.82)">a</text>
<text transform="translate(432.30 244.73) rotate(-8.30)">r</text>
<text transform="translate(437.16 244.10) rotate(-6.36)">d</text>
<text transform="translate(361.37 253.13) rotate(-34.25)">G</text>
<text transform="translate(367.95 248.87) rotate(-31.50)">r</text>
<text transform="translate(372.17 246.37) rotate(-29.78)">e</text>
<text transform="translate(377.76 243.32) rotate(-27.54)">e</text>
<text transform="translate(383.47 240.48) rotate(-25.30)">n</text>
<text transform="translate(389.96 237.58) rotate(-22.80)">,</text>
<text transform="translate(397.72 234.55) rotate(-19.88)">E</text>
<text transform="translate(404.46 232.28) rotate(-17.38)">d</text>
<text transform="translate(411.29 230.31) rotate(-14.88)">w</text>
<text transform="translate(419.63 228.32) rotate(-11.87)">a</text>
<text transform="translate(425.89 227.13) rotate(-9.63)">r</text>
<text transform="translate(430.74 226.38) rotate(-7.91)">d</text>
<text transform="translate(341.89 244.57) rotate(-37.81)">М</text>
<text transform="translate(348.79 239.48) rotate(-35.11)">а</text>
<text transform="translate(354.07 235.90) rotate(-33.10)">к</text>
<text transform="translate(359.47 232.52) rotate(-31.08)">с</text>
<text transform="translate(364.98 229.32) rotate(-29.07)">и</text>
<text transform="translate(371.26 225.99) rotate(-26.83)">м</text>
<text transform="translate(378.33 222.61) rotate(-24.35)">о</text>
<text transform="translate(384.18 220.08) rotate(-22.34)">в</text>
<text transform="translate(390.12 217.76) rotate(-20.33)">,</text>
<text transform="translate(398.00 215.05) rotate(-17.70)">C</text>
<text transform="translate(404.81 213.02) rotate(-15.46)">h</text>
<text transform="translate(411.70 211.26) rotate(-13.21)">r</text>
<text transform="translate(416.49 210.20) rotate(-11.67)">i</text>
<text transform="translate(419.85 209.54) rotate(-10.58)">s</text>
<text transform="translate(425.41 208.59) rotate(-8.80)">t</text>
<text transform="translate(430.27 207.90) rotate(-7.26)">i</text>
<text transform="translate(433.68 207.50) rotate(-6.17)">n</text>
<text transform="translate(440.76 206.88) rotate(-3.93)">a</text>
<text transform="translate(351.94 215.61) rotate(-30.43)">G</text>
<text transform="translate(358.78 211.77) rotate(-28.18)">r</text>
<text transform="translate(363.13 209.51) rotate(-26.78)">e</text>
<text transform="translate(368.86 206.73) rotate(-24.95)">e</text>
<text transform="translate(374.68 204.13) rotate(-23.12)">n</text>
<text transform="translate(381.27 201.46) rotate(-21.09)">,</text>
<text transform="translate(388.26 198.91) rotate(-18.96)">J</text>
<text transform="translate(393.07 197.33) rotate(-17.50)">a</text>
<text transform="translate(399.18 195.51) rotate(-15.68)">m</text>
<text transform="translate(408.92 193.04) rotate(-12.80)">e</text>
<text transform="translate(415.15 191.72) rotate(-10.97)">s</text>
<text transform="translate(325.68 210.80) rotate(-35.74)">C</text>
<text transform="translate(331.52 206.75) rotate(-33.88)">h</text>
<text transform="translate(337.48 202.88) rotate(-32.01)">r</text>
<text transform="translate(341.67 200.33) rotate(-30.72)">i</text>
<text transform="translate(344.63 198.60) rotate(-29.82)">s</text>
<text transform="translate(349.56 195.86) rotate(-28.34)">t</text>
<text transform="translate(353.90 193.58) rotate(-27.05)">i</text>
<text transform="translate(356.97 192.04) rotate(-26.15)">a</text>
<text transform="translate(362.73 189.32) rotate(-24.48)">n</text>
<text transform="translate(369.25 186.48) rotate(-22.62)">s</text>
<text transform="translate(374.48 184.38) rotate(-21.14)">e</text>
<text transform="translate(380.46 182.17) rotate(-19.46)">n</text>
<text transform="translate(387.20 179.91) rotate(-17.60)">,</text>
<text transform="translate(395.19 177.54) rotate(-15.41)">F</text>
<text transform="translate(401.36 175.93) rotate(-13.74)">r</text>
<text transform="translate(406.13 174.82) rotate(-12.45)">a</text>
<text transform="translate(412.38 173.54) rotate(-10.78)">n</text>
<text transform="translate(419.38 172.33) rotate(-8.91)">c</text>
<text transform="translate(425.69 171.43) rotate(-7.24)">e</text>
<text transform="translate(432.02 170.72) rotate(-5.57)">s</text>
<text transform="translate(330.78 185.43) rotate(-31.15)">G</text>
<text transform="translate(337.55 181.49) rotate(-29.25)">r</text>
<text transform="translate(341.86 179.13) rotate(-28.06)">e</text>
<text transform="translate(347.52 176.21) rotate(-26.52)">e</text>
<text transform="translate(353.26 173.44) rotate(-24.98)">n</text>
<text transform="translate(359.75 170.54) rotate(-23.26)">,</text>
<text transform="translate(367.46 167.38) rotate(-21.24)">R</text>
<text transform="translate(374.13 164.91) rotate(-19.52)">a</text>
<text transform="translate(380.16 162.86) rotate(-17.97)">n</text>
<text transform="translate(386.95 160.77) rotate(-16.25)">d</text>
<text transform="translate(393.81 158.88) rotate(-14.53)">o</text>
<text transform="translate(400.00 157.37) rotate(-12.99)">l</text>
<text transform="translate(403.35 156.62) rotate(-12.16)">p</text>
<text transform="translate(410.32 155.23) rotate(-10.44)">h</text>
<text transform="translate(334.26 162.36) rotate(-27.79)">D</text>
<text transform="translate(341.25 158.81) rotate(-26.03)">a</text>
<text transform="translate(347.01 156.08) rotate(-24.60)">v</text>
<text transform="translate(352.84 153.50) rotate(-23.17)">i</text>
<text transform="translate(356.01 152.17) rotate(-22.40)">s</text>
<text transform="translate(361.24 150.08) rotate(-21.13)">,</text>
<text transform="translate(369.07 147.20) rotate(-19.26)">S</text>
<text transform="translate(375.81 144.95) rotate(-17.66)">a</text>
<text transform="translate(381.91 143.10) rotate(-16.23)">b</text>
<text transform="translate(388.76 141.20) rotate(-14.63)">r</text>
<text transform="translate(393.51 140.01) rotate(-13.53)">a</text>
<text transform="translate(321.59 148.30) rotate(-28.77)">G</text>
<text transform="translate(328.52 144.63) rotate(-27.13)">r</text>
<text transform="translate(332.90 142.43) rotate(-26.10)">e</text>
<text transform="translate(338.66 139.70) rotate(-24.76)">e</text>
<text transform="translate(344.47 137.09) rotate(-23.43)">n</text>
<text transform="translate(351.03 134.35) rotate(-21.94)">,</text>
<text transform="translate(358.81 131.36) rotate(-20.19)">F</text>
<text transform="translate(364.82 129.23) rotate(-18.86)">r</text>
<text transform="translate(369.47 127.68) rotate(-17.83)">a</text>
<text transform="translate(375.56 125.80) rotate(-16.49)">n</text>
<text transform="translate(382.40 123.87) rotate(-15.01)">c</text>
<text transform="translate(388.58 122.30) rotate(-13.67)">e</text>
<text transform="translate(394.79 120.86) rotate(-12.33)">s</text>
<text transform="translate(326.53 125.09) rotate(-25.72)">F</text>
<text transform="translate(332.30 122.39) rotate(-24.47)">o</text>
<text transform="translate(338.13 119.81) rotate(-23.22)">x</text>
<text transform="translate(344.02 117.36) rotate(-21.97)">,</text>
<text transform="translate(351.79 114.36) rotate(-20.33)">D</text>
<text transform="translate(359.18 111.73) rotate(-18.79)">a</text>
<text transform="translate(365.24 109.74) rotate(-17.54)">v</text>
<text transform="translate(371.33 107.89) rotate(-16.29)">i</text>
<text transform="translate(374.63 106.94) rotate(-15.62)">d</text>
<text transform="translate(303.47 116.32) rotate(-28.86)">F</text>
<text transform="translate(309.09 113.30) rotate(-27.68)">o</text>
<text transform="translate(314.76 110.39) rotate(-26.50)">x</text>
<text transform="translate(320.49 107.61) rotate(-25.33)">,</text>
<text transform="translate(327.25 104.51) rotate(-23.95)">J</text>
<text transform="translate(331.90 102.49) rotate(-23.02)">u</text>
<text transform="translate(338.47 99.78) rotate(-21.71)">l</text>
<text transform="translate(341.67 98.53) rotate(-21.07)">i</text>
<text transform="translate(344.88 97.31) rotate(-20.44)">a</text>
<text transform="translate(354.82 93.80) rotate(-18.49)">C</text>
<text transform="translate(361.59 91.63) rotate(-17.18)">o</text>
<text transform="translate(367.70 89.81) rotate(-16.00)">l</text>
<text transform="translate(371.00 88.88) rotate(-15.37)">v</text>
<text transform="translate(377.16 87.25) rotate(-14.19)">i</text>
<text transform="translate(380.50 86.43) rotate(-13.55)">l</text>
<text transform="translate(383.84 85.64) rotate(-12.92)">l</text>
<text transform="translate(387.19 84.89) rotate(-12.29)">e</text>
</g></svg>
<!-- scrollbars -->
<div class="trough" style="left:738px;top:83px;width:10px;height:308px"></div>
<div class="trough" style="left:109px;top:382px;width:639px;height:9px"></div>
<div class="thumb" style="left:740px;top:102px;width:5.5px;height:125px"></div>
<div class="thumb" style="left:110px;top:384px;width:571px;height:5px"></div>
<div class="dot" style="left:105.3px;top:230.10px"></div>
<div class="dot" style="left:748.9px;top:230.10px"></div>
<div class="dot" style="left:419.00px;top:392.6px;background:#dadada"></div>
<div class="dot" style="left:105.3px;top:234.15px"></div>
<div class="dot" style="left:748.9px;top:234.15px"></div>
<div class="dot" style="left:423.07px;top:392.6px;background:#dadada"></div>
<div class="dot" style="left:105.3px;top:238.20px"></div>
<div class="dot" style="left:748.9px;top:238.20px"></div>
<div class="dot" style="left:427.14px;top:392.6px;background:#dadada"></div>
<div class="dot" style="left:105.3px;top:242.25px"></div>
<div class="dot" style="left:748.9px;top:242.25px"></div>
<div class="dot" style="left:431.21px;top:392.6px;background:#dadada"></div>
<div class="dot" style="left:105.3px;top:246.30px"></div>
<div class="dot" style="left:748.9px;top:246.30px"></div>
<div class="dot" style="left:435.28px;top:392.6px;background:#dadada"></div>
<!-- status -->
<span class="t " style="left:9px;top:402px;transform:matrix(1,0.0005,0,1,0.60,0.94);font-size:9.7px;letter-spacing:0.640px">[I0756] Ramos, Mary</span>
</body></html>
